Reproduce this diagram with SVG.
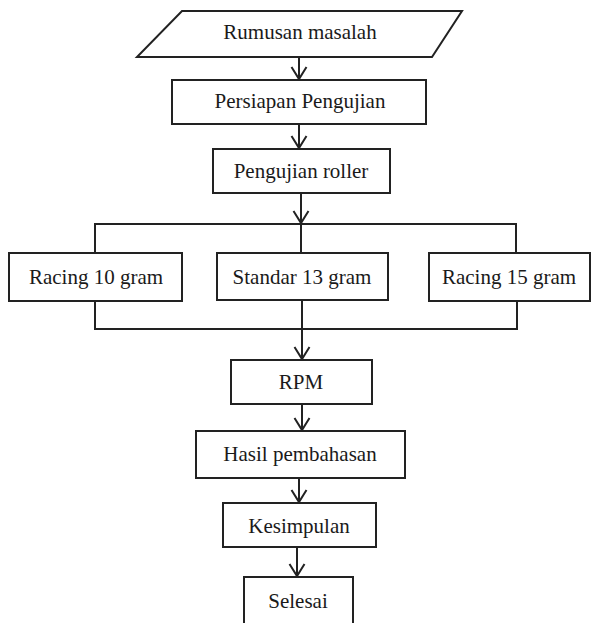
<svg xmlns="http://www.w3.org/2000/svg" width="598" height="623" viewBox="0 0 598 623">
<defs>
<style>
.n{fill:#fff;stroke:#222;stroke-width:2}
.c{fill:none;stroke:#222;stroke-width:2}
.t{font-family:"Liberation Serif","Times New Roman",serif;font-size:21px;fill:#1a1a1a;text-anchor:middle}
</style>
<marker id="a" markerUnits="userSpaceOnUse" markerWidth="20" markerHeight="20" viewBox="-14 -10 16 20" refX="0" refY="0" orient="auto" overflow="visible">
<path d="M-12,-7.5 L0,0 L-12,7.5" fill="none" stroke="#222" stroke-width="2"/>
</marker>
</defs>
<rect width="598" height="623" fill="#fff"/>
<g id="connectors">
<line class="c" x1="299" y1="57" x2="299" y2="79" marker-end="url(#a)"/>
<line class="c" x1="299" y1="124" x2="299" y2="148" marker-end="url(#a)"/>
<line class="c" x1="301" y1="193" x2="301" y2="223" marker-end="url(#a)"/>
<polyline class="c" points="95,253 95,224 516,224 516,253"/>
<line class="c" x1="301" y1="224" x2="301" y2="253"/>
<polyline class="c" points="95,301 95,329 517,329 517,301"/>
<line class="c" x1="302" y1="300" x2="302" y2="359" marker-end="url(#a)"/>
<line class="c" x1="302" y1="404" x2="302" y2="430" marker-end="url(#a)"/>
<line class="c" x1="299" y1="478" x2="299" y2="502" marker-end="url(#a)"/>
<line class="c" x1="297" y1="547" x2="297" y2="576" marker-end="url(#a)"/>
</g>
<g id="n1"><polygon class="n" points="182,11 462,11 432,57 137,57"/><text class="t" x="300" y="39">Rumusan masalah</text></g>
<g id="n2"><rect class="n" x="172" y="80" width="254" height="44"/><text class="t" x="300" y="108">Persiapan Pengujian</text></g>
<g id="n3"><rect class="n" x="213" y="149" width="177" height="44"/><text class="t" x="301" y="178">Pengujian roller</text></g>
<g id="n4"><rect class="n" x="9" y="253" width="173" height="48"/><text class="t" x="96" y="284">Racing 10 gram</text></g>
<g id="n5"><rect class="n" x="217" y="253" width="171" height="47"/><text class="t" x="302" y="284">Standar 13 gram</text></g>
<g id="n6"><rect class="n" x="429" y="253" width="161" height="48"/><text class="t" x="509" y="284">Racing 15 gram</text></g>
<g id="n7"><rect class="n" x="231" y="360" width="141" height="44"/><text class="t" x="301" y="389">RPM</text></g>
<g id="n8"><rect class="n" x="196" y="431" width="209" height="47"/><text class="t" x="300" y="461">Hasil pembahasan</text></g>
<g id="n9"><rect class="n" x="223" y="503" width="153" height="44"/><text class="t" x="299" y="533">Kesimpulan</text></g>
<g id="n10"><rect class="n" x="244" y="577" width="109" height="60"/><text class="t" x="298" y="608">Selesai</text></g>
</svg>
